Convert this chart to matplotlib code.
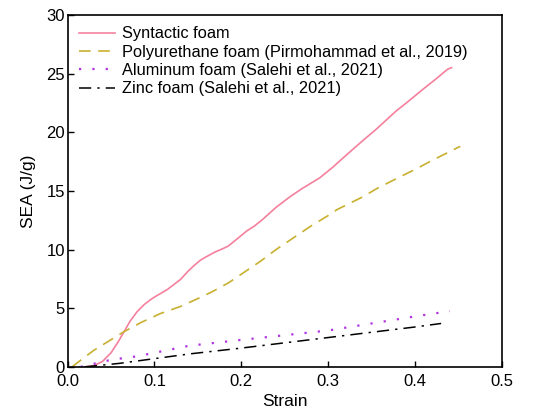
import numpy as np
import matplotlib.pyplot as plt

plt.rcParams['font.family'] = ['Liberation Sans', 'DejaVu Sans']

# Syntactic foam
strain_syn = [0.02, 0.03, 0.04, 0.05, 0.058, 0.065, 0.072, 0.08, 0.088, 0.095, 0.1, 0.107,
              0.115, 0.122, 0.13, 0.138, 0.145, 0.153, 0.16, 0.17, 0.178, 0.185, 0.195,
              0.2065, 0.215, 0.225, 0.24, 0.256, 0.27, 0.29, 0.305, 0.32, 0.34, 0.356,
              0.378, 0.39, 0.408, 0.425, 0.433, 0.438, 0.442]
sea_syn = [0.0, 0.1, 0.45, 1.2, 2.1, 3.0, 3.9, 4.7, 5.3, 5.7, 5.95, 6.25, 6.6, 7.0, 7.45,
           8.1, 8.6, 9.1, 9.4, 9.8, 10.05, 10.3, 10.9, 11.6, 12.0, 12.6, 13.6, 14.5, 15.2,
           16.1, 17.0, 18.0, 19.3, 20.3, 21.8, 22.5, 23.6, 24.6, 25.1, 25.4, 25.5]

# Polyurethane foam
strain_pu = [0.005, 0.03, 0.065, 0.085, 0.107, 0.13, 0.145, 0.165, 0.185, 0.2, 0.222, 0.24,
             0.262, 0.28, 0.3, 0.31, 0.34, 0.356, 0.38, 0.402, 0.417, 0.452]
sea_pu = [0.0, 1.4, 3.0, 3.8, 4.55, 5.15, 5.65, 6.35, 7.15, 7.9, 9.0, 10.0, 11.1, 12.0, 12.9,
          13.4, 14.5, 15.2, 16.1, 16.9, 17.5, 18.8]

# Aluminum foam
strain_al = [0.015, 0.05, 0.08, 0.14, 0.2, 0.3, 0.4, 0.44]
sea_al = [0.0, 0.6, 0.9, 1.8, 2.3, 3.1, 4.3, 4.75]

# Zinc foam
strain_zn = [0.02, 0.06, 0.14, 0.2, 0.3, 0.4, 0.43]
sea_zn = [0.0, 0.3, 1.1, 1.6, 2.5, 3.4, 3.7]

fig = plt.figure(figsize=(5.45, 4.15), dpi=100)
ax = fig.add_axes([0.124, 0.116, 0.797, 0.848])

ax.plot(strain_syn, sea_syn, color='#F4809E', linestyle='-', linewidth=1.2, label='Syntactic foam')
ax.plot(strain_pu, sea_pu, color='#C8B030', linestyle=(0, (7, 4.5)), linewidth=1.2,
        label='Polyurethane foam (Pirmohammad et al., 2019)')
ax.plot(strain_al, sea_al, color='#B035E0', linestyle=(0, (1, 5)), linewidth=1.6,
        label='Aluminum foam (Salehi et al., 2021)')
ax.plot(strain_zn, sea_zn, color='black', linestyle=(0, (8, 4, 1.5, 4)), linewidth=1.1,
        label='Zinc foam (Salehi et al., 2021)')

ax.set_xlim(0, 0.5)
ax.set_ylim(0, 30)
ax.set_xticks([0.0, 0.1, 0.2, 0.3, 0.4, 0.5])
ax.set_yticks([0, 5, 10, 15, 20, 25, 30])
ax.set_xticklabels(['0.0', '0.1', '0.2', '0.3', '0.4', '0.5'])
ax.tick_params(direction='in', length=4, labelsize=12, width=1)
ax.tick_params(axis='x', pad=5.5)
ax.tick_params(axis='y', pad=2)
for s in ax.spines.values():
    s.set_linewidth(1.2)
ax.set_xlabel('Strain', fontsize=12.5, labelpad=3)
ax.set_ylabel('SEA (J/g)', fontsize=12.5, labelpad=7)

ax.legend(loc='upper left', frameon=False, fontsize=11.8, handlelength=2.2,
          labelspacing=0.2, borderaxespad=0.3, handletextpad=0.45)

fig.savefig('out.png', dpi=100)
